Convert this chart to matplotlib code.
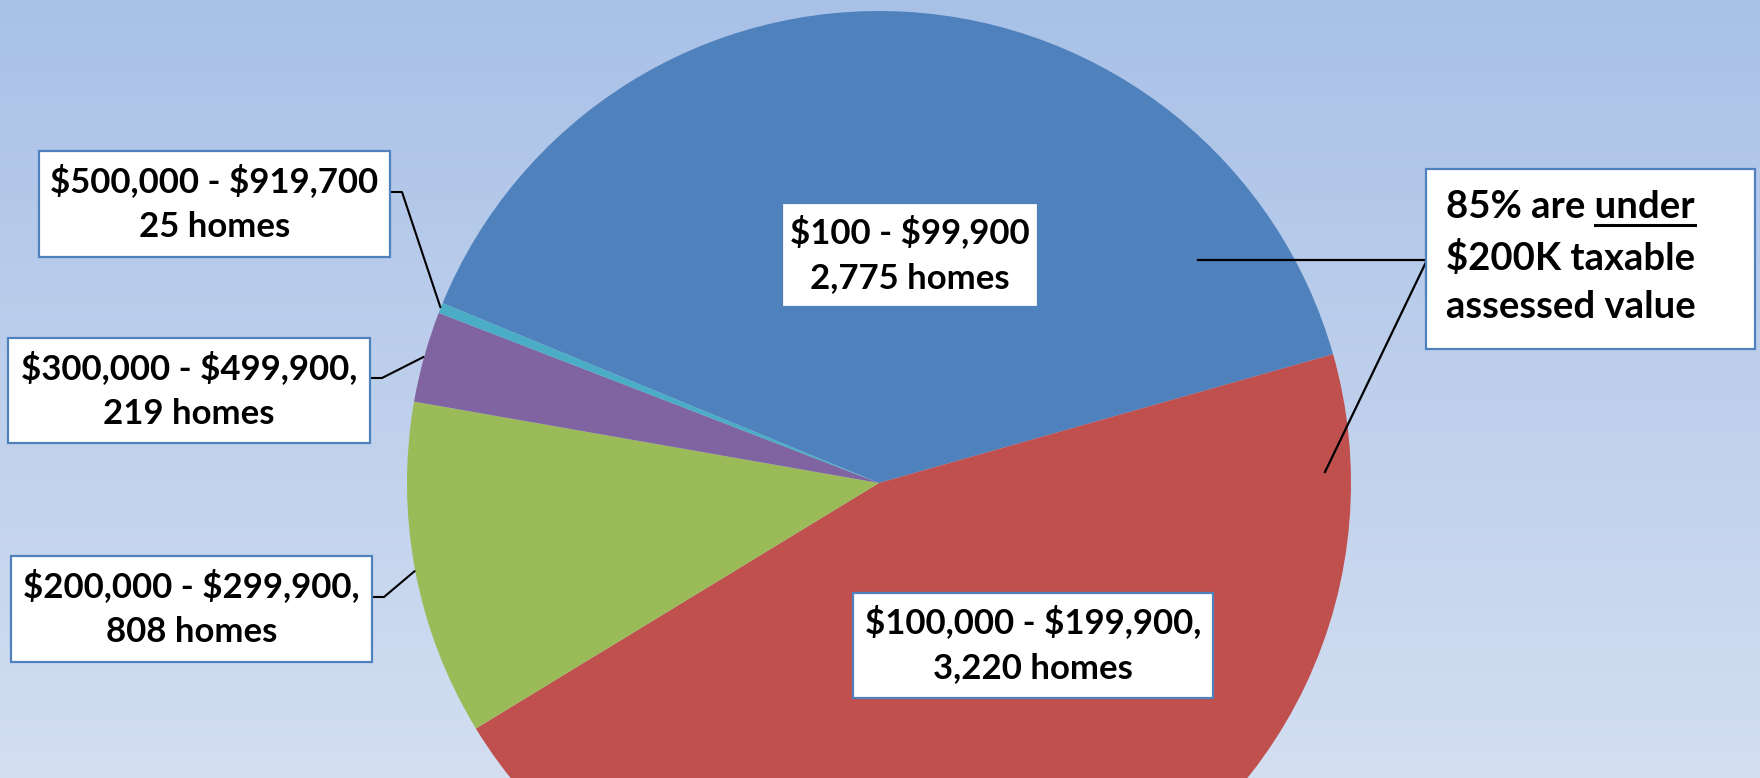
import numpy as np
import matplotlib
matplotlib.use("Agg")
import matplotlib.pyplot as plt
from matplotlib.patches import Rectangle
from matplotlib.colors import LinearSegmentedColormap

ranges = ["$100 - $99,900", "$100,000 - $199,900,", "$200,000 - $299,900,",
          "$300,000 - $499,900,", "$500,000 - $919,700"]
homes = [2775, 3220, 808, 219, 25]
home_labels = ["2,775 homes", "3,220 homes", "808 homes", "219 homes", "25 homes"]
colors = ["#4F81BD", "#C0504D", "#9BBB59", "#8064A2", "#4BACC6"]
note_lines = ["85% are under", "$200K taxable", "assessed value"]

W, H = 1760, 778
FONT = "Lato"
FS = 25
FS_NOTE = 27.5
BOX_EC = "#4F81BD"

fig = plt.figure(figsize=(W / 100, H / 100), dpi=100)
ax = fig.add_axes([0, 0, 1, 1])

# background gradient (light blue, lighter towards the bottom)
cmap = LinearSegmentedColormap.from_list("bg", ["#D3DEF1", "#A9C1E7"])
ax.imshow(np.linspace(0, 1, 256).reshape(-1, 1), cmap=cmap, origin="lower",
          extent=[0, W, 0, H], aspect="auto", zorder=0)

cx, cy, R = 879, H - 483, 472
wedges, _ = ax.pie(homes, colors=colors, startangle=157.6, counterclock=False,
                   center=(cx, cy), radius=R, wedgeprops=dict(linewidth=0))
for w in wedges:
    w.set_zorder(1)

ax.set_xlim(0, W)
ax.set_ylim(0, H)
ax.set_aspect("equal")
ax.axis("off")


def box(x0, y0, x1, y1):
    # pixel coords, y measured from top
    ax.add_patch(Rectangle((x0, H - y1), x1 - x0, y1 - y0, fc="white",
                           ec=BOX_EC, lw=1.6, zorder=3))


def label(xc, yc, text):
    ax.text(xc, H - yc, text, ha="center", va="center", fontsize=FS,
            fontweight="bold", family=FONT, linespacing=1.5, zorder=4,
            parse_math=False)


def edge_point(w):
    mid = np.deg2rad((w.theta1 + w.theta2) / 2)
    return cx + R * np.cos(mid), cy + R * np.sin(mid)


# boxes inside the two big slices
box(782, 203, 1038, 307)
label(910, 255, ranges[0] + "\n" + home_labels[0])
box(853, 593, 1213, 698)
label(1033, 645, ranges[1] + "\n" + home_labels[1])

# outside labels with leader lines: (box, elbow y, wedge index)
outside = [((11, 556, 372, 662), 597, 2),
           ((8, 338, 370, 443), 378, 3),
           ((39, 151, 390, 257), 192, 4)]
for (x0, y0, x1, y1), ly, i in outside:
    box(x0, y0, x1, y1)
    label((x0 + x1) / 2, (y0 + y1) / 2, ranges[i] + "\n" + home_labels[i])
    ex, ey = edge_point(wedges[i])
    ax.plot([x1, x1 + 12, ex], [H - ly, H - ly, ey], color="black", lw=1.5,
            zorder=2, solid_capstyle="butt")

# note box on the right
box(1426, 169, 1755, 349)
ax.plot([1427, 1198], [H - 260, H - 260], color="black", lw=1.6, zorder=2)
ax.plot([1427, 1325], [H - 260, H - 472], color="black", lw=1.6, zorder=2)
line_y = [207, 258, 307]
texts = []
for s, y in zip(note_lines, line_y):
    texts.append(ax.text(1446, H - y, s, ha="left", va="center",
                         fontsize=FS_NOTE, fontweight="bold", family=FONT,
                         zorder=4, parse_math=False))

# underline "under"
fig.canvas.draw()
r = fig.canvas.get_renderer()
full = texts[0].get_window_extent(r)
tmp = ax.text(0, 0, "under", fontsize=FS_NOTE, fontweight="bold", family=FONT)
wu = tmp.get_window_extent(r).width
tmp.remove()
inv = ax.transData.inverted()
xa, ya = inv.transform((full.x1 - wu, full.y0))
xb, _ = inv.transform((full.x1, full.y0))
ax.plot([xa, xb], [ya - 1, ya - 1], color="black", lw=2.2, zorder=4)

fig.savefig("out.png", dpi=100)
